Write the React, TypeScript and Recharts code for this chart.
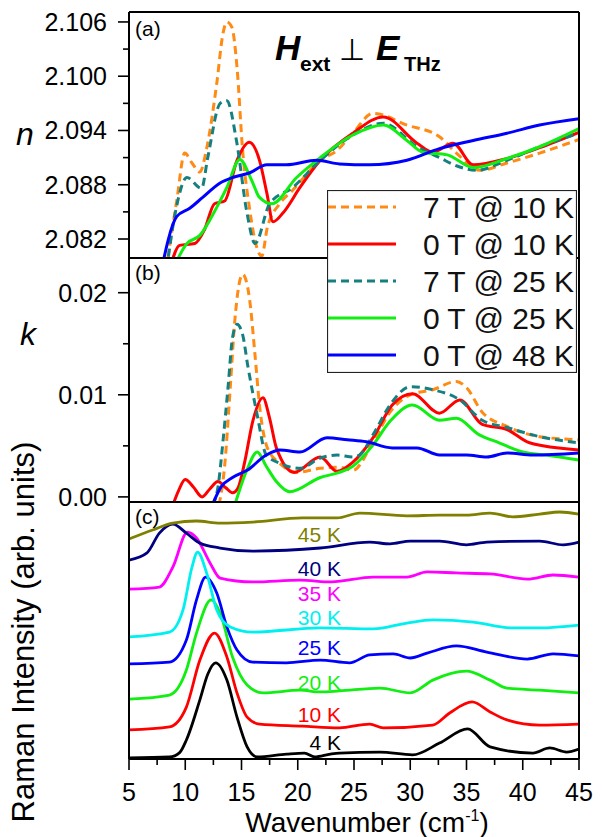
import React from 'react';
import { LineChart, Line, XAxis, YAxis, Legend } from 'recharts';

const FONT = 'Arial, "Liberation Sans", Helvetica, sans-serif';
const W = 604;
const H = 837;
const LEFT = 129;
const TOP_A = 12;
const TOP_B = 258;
const TOP_C = 502;
const BOTTOM_C = 759;

// wavenumber ticks (cm-1)
const xMajor = [5, 10, 15, 20, 25, 30, 35, 40, 45];
const xTicks = [5, 7.5, 10, 12.5, 15, 17.5, 20, 22.5, 25, 27.5, 30, 32.5, 35, 37.5, 40, 42.5, 45];

// (a) refractive index n
const nMajor = [2.082, 2.088, 2.094, 2.1, 2.106];
const nTicks = [2.082, 2.085, 2.088, 2.091, 2.094, 2.097, 2.1, 2.103, 2.106];

// (b) extinction coefficient k
const kMajor = [0, 0.01, 0.02];
const kTicks = [0, 0.005, 0.01, 0.015, 0.02];

// legend of (a)/(b)
const thzNames = ['7 T @ 10 K', '0 T @ 10 K', '7 T @ 25 K', '0 T @ 25 K', '0 T @ 48 K'];
const thzColors = ['#ff8a14', '#ff0000', '#168080', '#11ee11', '#0000ff'];
const thzDash = ['8 5', undefined, '8 5', undefined, undefined];

// n curves
const nX_7T10K = [8.1, 9.25, 9.95, 10.6, 11.3, 11.9, 12.8, 13.35, 13.7, 14.15, 14.6, 15.1, 15.7, 16.35, 16.8, 17.3, 18.4, 19.55, 22.0, 23.5, 24.9, 26.7, 29.7, 32.6, 34.1, 36.2, 38.6, 41.5, 45];
const n_7T10K = [2.077, 2.0863, 2.0915, 2.0904, 2.0894, 2.092, 2.0992, 2.1047, 2.106, 2.1054, 2.101, 2.0918, 2.0855, 2.0811, 2.0801, 2.0833, 2.0859, 2.0874, 2.0907, 2.0918, 2.0937, 2.0959, 2.0946, 2.0933, 2.0915, 2.0896, 2.0904, 2.0915, 2.093];

const nX_0T10K = [8.4, 9.5, 10.85, 11.7, 12.6, 13.5, 14.6, 15.7, 16.6, 17.25, 17.8, 18.7, 20.2, 22.0, 24.9, 27.6, 30.6, 32.0, 33.8, 35.6, 38.6, 41.5, 45];
const n_0T10K = [2.0775, 2.0813, 2.0815, 2.083, 2.0859, 2.0862, 2.0907, 2.0927, 2.0907, 2.0871, 2.0839, 2.0849, 2.0877, 2.0907, 2.0937, 2.0955, 2.0926, 2.0916, 2.0926, 2.0902, 2.0909, 2.0921, 2.0938];

const nX_7T25K = [8.2, 9.1, 10.15, 11.45, 12.0, 13.1, 13.7, 14.55, 15.5, 16.2, 17.5, 19.55, 22.0, 24.9, 27.6, 30.6, 32.6, 34.1, 35.9, 38.6, 41.5, 45];
const n_7T25K = [2.0772, 2.0848, 2.0888, 2.0876, 2.091, 2.097, 2.0973, 2.0929, 2.0848, 2.0815, 2.0859, 2.0877, 2.0907, 2.0935, 2.0948, 2.0922, 2.091, 2.0901, 2.0896, 2.0907, 2.0922, 2.0937];

const nX_0T25K = [8.5, 10.15, 11.3, 12.8, 13.7, 14.85, 15.9, 16.6, 17.7, 19.9, 22.0, 24.9, 27.6, 29.7, 31.1, 33.3, 35.6, 38.6, 41.5, 45];
const n_0T25K = [2.0775, 2.0815, 2.0824, 2.0855, 2.0877, 2.0908, 2.0885, 2.0866, 2.0859, 2.0888, 2.091, 2.0935, 2.0946, 2.0929, 2.0916, 2.0913, 2.0899, 2.0909, 2.0922, 2.0942];

const nX_0T48K = [7.7, 9.25, 10.4, 11.55, 13.1, 14.2, 15.7, 17.25, 19.0, 21.7, 23.7, 26.4, 29.7, 32.6, 35.6, 38.6, 41.5, 45];
const n_0T48K = [2.0775, 2.0845, 2.0854, 2.0866, 2.0882, 2.0888, 2.0893, 2.0902, 2.0902, 2.0907, 2.0903, 2.0902, 2.0907, 2.092, 2.0929, 2.0937, 2.0946, 2.0953];

// k curves
const kX_7T10K = [13.0, 13.5, 14.0, 14.4, 15.1, 15.7, 16.2, 16.6, 17.3, 18.4, 19.9, 22.0, 23.7, 24.9, 26.7, 28.2, 30.0, 32.0, 34.1, 35.0, 36.4, 38.6, 41.5, 45];
const k_7T10K = [-0.0008, 0.003, 0.0107, 0.0172, 0.0218, 0.0195, 0.0139, 0.009, 0.0048, 0.0033, 0.0024, 0.0028, 0.0029, 0.0026, 0.0054, 0.0083, 0.01, 0.0105, 0.0113, 0.0107, 0.0083, 0.0069, 0.0059, 0.0056];

const kX_0T10K = [8.9, 9.4, 10.0, 10.7, 11.5, 12.2, 12.9, 13.6, 14.2, 14.7, 15.3, 16.0, 16.9, 17.5, 18.1, 19.7, 22.0, 23.5, 24.9, 26.7, 28.4, 30.2, 32.6, 34.4, 36.4, 38.6, 40.6, 45];
const k_0T10K = [-0.0008, 0.0006, 0.0017, 0.001, 0.0, 0.0008, 0.0015, 0.0009, 0.0004, 0.0009, 0.0035, 0.0074, 0.0097, 0.0077, 0.0048, 0.0024, 0.0039, 0.0025, 0.0034, 0.0058, 0.009, 0.0101, 0.0082, 0.0095, 0.0071, 0.0066, 0.0053, 0.0046];

const kX_7T25K = [12.4, 12.9, 13.35, 13.8, 14.2, 14.6, 15.1, 15.55, 16.4, 17.2, 18.4, 20.2, 22.0, 23.5, 24.9, 25.5, 26.7, 28.2, 30.0, 32.0, 34.4, 36.4, 38.6, 41.5, 45];
const k_7T25K = [-0.0008, 0.0009, 0.0054, 0.0107, 0.0156, 0.0169, 0.0159, 0.0129, 0.008, 0.0041, 0.0033, 0.0028, 0.0038, 0.0041, 0.0039, 0.0041, 0.0061, 0.009, 0.0108, 0.0105, 0.0095, 0.0075, 0.0068, 0.0059, 0.0053];

const kX_0T25K = [14.4, 15.5, 16.4, 17.2, 18.1, 19.3, 22.0, 23.7, 24.9, 26.7, 28.2, 30.2, 32.6, 34.1, 36.1, 37.9, 40.0, 42.1, 45];
const k_0T25K = [-0.0008, 0.0027, 0.0044, 0.003, 0.0015, 0.0005, 0.0019, 0.0024, 0.003, 0.0051, 0.0074, 0.009, 0.0075, 0.0077, 0.0061, 0.0053, 0.0044, 0.0041, 0.0036];

const kX_0T48K = [12.4, 13.2, 14.2, 15.5, 17.2, 18.4, 20.2, 22.6, 24.4, 26.1, 28.4, 30.6, 32.6, 35.0, 36.8, 38.6, 40.9, 45];
const k_0T48K = [-0.0008, 0.001, 0.0019, 0.0026, 0.0041, 0.0046, 0.0044, 0.0058, 0.0056, 0.0054, 0.0048, 0.0048, 0.0041, 0.0041, 0.0039, 0.0043, 0.0041, 0.0043];

// (c) Raman spectra, offset, arb. units
const ramanNames = ['4 K', '10 K', '20 K', '25 K', '30 K', '35 K', '40 K', '45 K'];
const ramanColors = ['#000000', '#ff0000', '#11ee11', '#0000ff', '#00f0f0', '#ff00ff', '#000080', '#808000'];

const rX_4K = [5, 8.6, 9.5, 10.1, 11.3, 12.0, 12.7, 13.7, 14.6, 15.5, 16.4, 19.0, 20.6, 21.5, 22.9, 23.7, 27.3, 30.2, 32.6, 35.1, 37.1, 40.9, 42.4, 43.9, 45];
const r_4K = [0.4, 0.8, 2.5, 7.4, 23.0, 33.0, 37.4, 30.7, 16.3, 4.7, 0.8, 1.9, 2.3, 0.8, 1.9, 2.3, 2.7, 1.6, 6.2, 11.7, 4.7, 2.3, 4.3, 2.7, 3.9];

const rX_10K = [5, 8.6, 10.1, 11.3, 12.6, 13.7, 14.6, 15.5, 16.6, 20.4, 23.7, 26.4, 27.6, 32.0, 33.5, 35.5, 37.1, 38.6, 41.5, 45];
const r_10K = [11.3, 12.5, 20.2, 38.5, 49.0, 39.7, 25.7, 16.3, 13.6, 12.8, 12.1, 13.6, 12.1, 13.2, 17.9, 22.2, 18.3, 15.2, 13.2, 13.6];

const rX_20K = [5, 8.6, 10.1, 11.0, 12.3, 13.1, 14.2, 15.5, 16.9, 20.2, 22.0, 23.7, 27.3, 30.0, 32.0, 35.0, 37.1, 38.6, 41.5, 45];
const r_20K = [23.3, 24.9, 34.6, 49.0, 61.9, 56.8, 39.7, 28.8, 25.7, 26.8, 26.1, 26.5, 27.6, 25.7, 30.7, 34.2, 30.7, 27.6, 26.8, 25.7];

const rX_25K = [5, 8.6, 10.1, 11.0, 11.8, 12.8, 13.7, 14.6, 16.0, 19.0, 22.0, 24.6, 26.4, 28.5, 30.0, 31.5, 34.1, 36.8, 40.4, 42.7, 45];
const r_25K = [37.0, 37.7, 46.3, 61.9, 70.8, 64.6, 51.4, 42.4, 37.7, 37.4, 38.5, 37.4, 40.5, 40.9, 39.3, 41.2, 44.0, 41.6, 38.9, 40.9, 40.1];

const rX_30K = [5, 8.6, 9.8, 10.6, 11.1, 11.9, 12.8, 14.0, 16.0, 22.0, 26.7, 29.7, 32.0, 35.6, 39.1, 41.5, 45];
const r_30K = [47.5, 49.4, 58.0, 74.7, 80.5, 72.4, 58.0, 51.4, 49.4, 51.0, 50.6, 52.9, 54.1, 53.3, 51.0, 51.0, 52.1];

const rX_35K = [5, 7.7, 8.9, 10.2, 11.0, 12.2, 13.1, 16.0, 20.2, 23.0, 26.7, 29.7, 31.5, 34.1, 37.1, 40.4, 42.7, 45];
const r_35K = [66.1, 66.9, 74.7, 88.3, 86.0, 76.3, 70.4, 68.9, 69.6, 68.9, 70.8, 70.8, 72.8, 72.4, 72.0, 70.0, 71.6, 70.8];

const rX_40K = [5, 6.6, 7.7, 8.9, 10.1, 11.3, 13.1, 16.0, 22.0, 26.4, 28.2, 30.0, 32.6, 35.0, 36.8, 41.5, 43.6, 45];
const r_40K = [77.4, 80.2, 87.9, 91.4, 87.9, 84.0, 82.1, 80.9, 82.1, 84.4, 83.7, 84.8, 84.8, 83.3, 84.4, 84.8, 83.3, 84.4];

const rX_45K = [5, 7.1, 8.9, 11.0, 13.1, 16.0, 20.4, 23.5, 25.5, 29.7, 32.6, 35.0, 37.1, 39.1, 41.5, 43.3, 45];
const r_45K = [85.6, 89.1, 91.8, 92.6, 91.8, 92.2, 93.8, 93.8, 95.7, 94.6, 94.9, 94.9, 95.7, 94.2, 95.3, 96.1, 95.3];

const zip = (xs: number[], ys: number[]) => xs.map((x, i) => ({ x, y: ys[i] }));

const nSeries = [
  zip(nX_7T10K, n_7T10K),
  zip(nX_0T10K, n_0T10K),
  zip(nX_7T25K, n_7T25K),
  zip(nX_0T25K, n_0T25K),
  zip(nX_0T48K, n_0T48K),
];
const kSeries = [
  zip(kX_7T10K, k_7T10K),
  zip(kX_0T10K, k_0T10K),
  zip(kX_7T25K, k_7T25K),
  zip(kX_0T25K, k_0T25K),
  zip(kX_0T48K, k_0T48K),
];
const ramanSeries = [
  zip(rX_4K, r_4K),
  zip(rX_10K, r_10K),
  zip(rX_20K, r_20K),
  zip(rX_25K, r_25K),
  zip(rX_30K, r_30K),
  zip(rX_35K, r_35K),
  zip(rX_40K, r_40K),
  zip(rX_45K, r_45K),
];

// where the temperature labels of (c) sit
const ramanLabelY = [750, 722, 690, 655, 625, 600.5, 576, 542];

const frameLine = { stroke: '#000', strokeWidth: 2 };
const isMajor = (list: number[], v: number) => list.some((m) => Math.abs(m - v) < 1e-7);

const YTick = ({ y, payload, majors, digits }: any) => {
  const major = isMajor(majors, payload.value);
  return (
    <g>
      <line x1={LEFT - (major ? 11 : 6)} x2={LEFT} y1={y} y2={y} stroke="#000" strokeWidth={1.6} />
      {major && (
        <text x={LEFT - 22} y={y + 9} textAnchor="end" fontSize={25} fontFamily={FONT} fill="#000">
          {payload.value.toFixed(digits)}
        </text>
      )}
    </g>
  );
};

const XTickInner = ({ x, payload, top }: any) => {
  const major = isMajor(xMajor, payload.value);
  return <line x1={x} x2={x} y1={top} y2={top + (major ? 10 : 6)} stroke="#000" strokeWidth={1.6} />;
};

const XTickBottom = ({ x, payload }: any) => {
  const major = isMajor(xMajor, payload.value);
  return (
    <g>
      <line x1={x} x2={x} y1={BOTTOM_C} y2={BOTTOM_C + (major ? 11 : 6)} stroke="#000" strokeWidth={1.6} />
      {major && (
        <text x={x} y={BOTTOM_C + 42} textAnchor="middle" fontSize={25} fontFamily={FONT} fill="#000">
          {payload.value}
        </text>
      )}
    </g>
  );
};

const DecoA = () => (
  <g fontFamily={FONT} fill="#000">
    <text x={25} y={145} fontSize={32} fontStyle="italic" textAnchor="middle">n</text>
    <text x={135} y={36} fontSize={21}>(a)</text>
    <text x={275} y={60} fontSize={35} fontWeight="bold" fontStyle="italic">H</text>
    <text x={300} y={71} fontSize={21} fontWeight="bold">ext</text>
    <text x={352} y={60} fontSize={30} textAnchor="middle">⊥</text>
    <text x={376} y={60} fontSize={35} fontWeight="bold" fontStyle="italic">E</text>
    <text x={404} y={71} fontSize={20} fontWeight="bold">THz</text>
  </g>
);

const DecoB = () => (
  <g fontFamily={FONT} fill="#000">
    <text x={28} y={345} fontSize={32} fontStyle="italic" textAnchor="middle">k</text>
    <text x={135} y={280} fontSize={21}>(b)</text>
  </g>
);

const DecoC = () => (
  <g fontFamily={FONT}>
    <text transform="translate(34,632) rotate(-90)" textAnchor="middle" fontSize={31} fill="#000">
      Raman Intensity (arb. units)
    </text>
    <text x={135} y={524} fontSize={21} fill="#000">(c)</text>
    {ramanNames.map((name, i) => (
      <text key={name} x={341} y={ramanLabelY[i]} textAnchor="end" fontSize={21} fill={ramanColors[i]}>
        {name}
      </text>
    ))}
  </g>
);

const XLabel = () => (
  <text x={367} y={832} textAnchor="middle" fontSize={28} fontFamily={FONT} fill="#000">
    <tspan>Wavenumber (cm</tspan>
    <tspan dy={-11} fontSize={16}>-1</tspan>
    <tspan dy={11}>)</tspan>
  </text>
);

const LegendBox = () => (
  <svg width={250} height={183} style={{ display: 'block' }}>
    <rect x={0.5} y={0.5} width={249} height={182} fill="#fff" stroke="#222" strokeWidth={1.2} />
    {thzNames.map((name, i) => {
      const y = 17 + i * 37;
      return (
        <g key={name}>
          <line x1={1} x2={69} y1={y} y2={y} stroke={thzColors[i]} strokeWidth={3} strokeDasharray={thzDash[i]} />
          <text x={247} y={y + 10.5} textAnchor="end" fontSize={30} fontFamily={FONT} fill="#111">
            {name}
          </text>
        </g>
      );
    })}
  </svg>
);

const commonX = (top: number, withTicks: boolean) => [
  <XAxis key="xb" xAxisId="x" dataKey="x" type="number" domain={[5, 45]} allowDataOverflow height={1} tick={false} tickLine={false} axisLine={frameLine} />,
  <XAxis
    key="xt"
    xAxisId="t"
    orientation="top"
    type="number"
    domain={[5, 45]}
    allowDataOverflow
    height={1}
    ticks={xTicks}
    interval={0}
    tickLine={false}
    tick={withTicks ? <XTickInner top={top} /> : false}
    axisLine={frameLine}
  />,
  <YAxis key="yr" yAxisId="r" orientation="right" type="number" domain={[0, 1]} width={1} tick={false} tickLine={false} axisLine={frameLine} />,
];

function PanelN() {
  return (
    <LineChart width={W} height={H} margin={{ top: TOP_A - 1, right: 24, bottom: H - TOP_B - 1, left: LEFT - 60 }}>
      {commonX(TOP_A, false)}
      <YAxis
        yAxisId="n"
        type="number"
        domain={[2.0799, 2.1071]}
        allowDataOverflow
        width={60}
        ticks={nTicks}
        interval={0}
        tickLine={false}
        axisLine={frameLine}
        tick={<YTick majors={nMajor} digits={3} />}
        label={<DecoA />}
      />
      {nSeries.map((d, i) => (
        <Line
          key={thzNames[i]}
          name={thzNames[i]}
          data={d}
          dataKey="y"
          xAxisId="x"
          yAxisId="n"
          type="monotone"
          stroke={thzColors[i]}
          strokeWidth={3}
          strokeDasharray={thzDash[i]}
          dot={false}
          activeDot={false}
          isAnimationActive={false}
        />
      ))}
      <Legend
        content={<LegendBox />}
        layout="vertical"
        align="center"
        verticalAlign="middle"
        wrapperStyle={{ left: 327, top: 190, right: 'auto', bottom: 'auto', width: 250, height: 183, zIndex: 10 }}
      />
    </LineChart>
  );
}

function PanelK() {
  return (
    <LineChart width={W} height={H} margin={{ top: TOP_B - 1, right: 24, bottom: H - TOP_C - 1, left: LEFT - 60 }}>
      {commonX(TOP_B, true)}
      <YAxis
        yAxisId="k"
        type="number"
        domain={[-0.0005, 0.0234]}
        allowDataOverflow
        width={60}
        ticks={kTicks}
        interval={0}
        tickLine={false}
        axisLine={frameLine}
        tick={<YTick majors={kMajor} digits={2} />}
        label={<DecoB />}
      />
      {kSeries.map((d, i) => (
        <Line
          key={thzNames[i]}
          name={thzNames[i]}
          data={d}
          dataKey="y"
          xAxisId="x"
          yAxisId="k"
          type="monotone"
          stroke={thzColors[i]}
          strokeWidth={3}
          strokeDasharray={thzDash[i]}
          dot={false}
          activeDot={false}
          isAnimationActive={false}
        />
      ))}
    </LineChart>
  );
}

function PanelRaman() {
  return (
    <LineChart width={W} height={H} margin={{ top: TOP_C - 1, right: 24, bottom: 0, left: LEFT - 60 }}>
      <XAxis
        xAxisId="x"
        dataKey="x"
        type="number"
        domain={[5, 45]}
        allowDataOverflow
        height={H - BOTTOM_C}
        ticks={xTicks}
        interval={0}
        tickLine={false}
        tick={<XTickBottom />}
        axisLine={frameLine}
        label={<XLabel />}
      />
      <XAxis
        xAxisId="t"
        orientation="top"
        type="number"
        domain={[5, 45]}
        allowDataOverflow
        height={1}
        ticks={xTicks}
        interval={0}
        tickLine={false}
        tick={<XTickInner top={TOP_C} />}
        axisLine={frameLine}
      />
      <YAxis yAxisId="r" orientation="right" type="number" domain={[0, 1]} width={1} tick={false} tickLine={false} axisLine={frameLine} />
      <YAxis
        yAxisId="raman"
        type="number"
        domain={[0, 100]}
        allowDataOverflow
        width={60}
        tick={false}
        tickLine={false}
        axisLine={frameLine}
        label={<DecoC />}
      />
      {ramanSeries.map((d, i) => (
        <Line
          key={ramanNames[i]}
          name={ramanNames[i]}
          data={d}
          dataKey="y"
          xAxisId="x"
          yAxisId="raman"
          type="monotone"
          stroke={ramanColors[i]}
          strokeWidth={2.8}
          dot={false}
          activeDot={false}
          isAnimationActive={false}
        />
      ))}
    </LineChart>
  );
}

export default function App() {
  return (
    <div style={{ position: 'absolute', left: 0, top: 0, width: W, height: H, background: '#fff', fontFamily: FONT }}>
      <div style={{ position: 'absolute', left: 0, top: 0 }}>
        <PanelN />
      </div>
      <div style={{ position: 'absolute', left: 0, top: 0 }}>
        <PanelK />
      </div>
      <div style={{ position: 'absolute', left: 0, top: 0 }}>
        <PanelRaman />
      </div>
    </div>
  );
}
